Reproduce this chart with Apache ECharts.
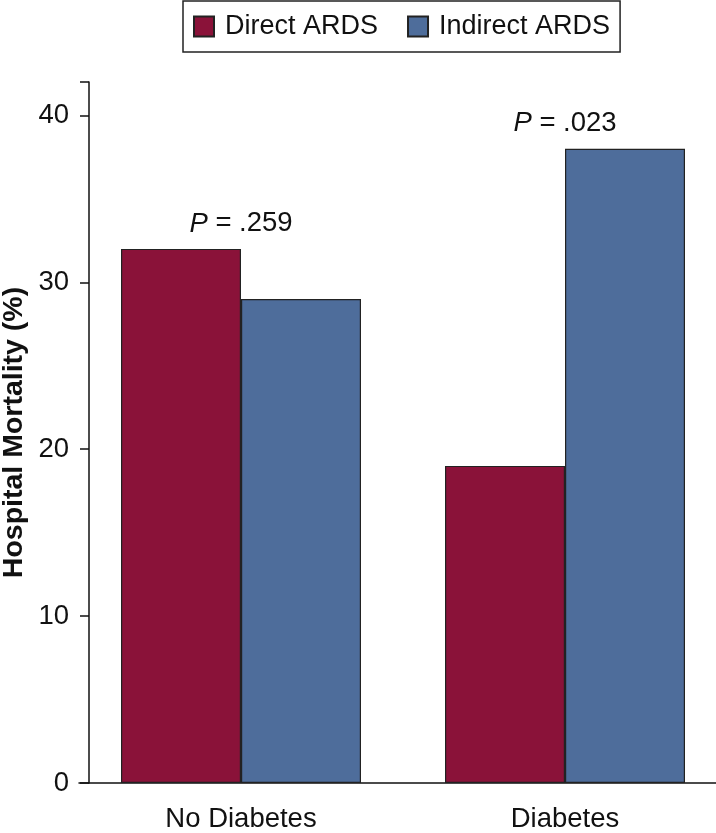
<!DOCTYPE html>
<html>
<head>
<meta charset="utf-8">
<script src="https://cdn.jsdelivr.net/npm/echarts@6/dist/echarts.min.js"></script>
<style>html,body{margin:0;padding:0;background:#fff;}#c{width:716px;height:833px;}</style>
</head>
<body>
<div id="c"></div>
<script>
const categories = ['No Diabetes', 'Diabetes'];
const directARDS = [32, 19];
const indirectARDS = [29, 38];
const pValues = ['.259', '.023'];
const yTicks = [0, 10, 20, 30, 40];

const FONT = '"Liberation Sans", Arial, sans-serif';
const INK = '#111';
const chart = echarts.init(document.getElementById('c'));
const annot = categories.map((c, i) => ({ value: [c, Math.max(directARDS[i], indirectARDS[i])], p: pValues[i] }));

chart.setOption({
  animation: false,
  textStyle: { fontFamily: FONT },
  legend: {
    top: 1, left: 183, icon: 'rect',
    itemWidth: 20, itemHeight: 20, itemGap: 29,
    padding: [12, 10, 12, 10],
    borderColor: '#222', borderWidth: 1.5,
    textStyle: { fontSize: 27, color: INK, fontFamily: FONT, padding: [0, 0, 0, 6] },
    data: ['Direct ARDS', 'Indirect ARDS']
  },
  grid: { left: 79, right: -11, top: 82, bottom: 50, containLabel: false, outerBoundsMode: 'none' },
  xAxis: {
    type: 'category', data: categories,
    axisLine: { lineStyle: { color: INK, width: 1.5 } },
    axisTick: { alignWithLabel: true, length: 9, lineStyle: { color: INK, width: 1.5 } },
    axisLabel: { fontSize: 27.5, color: INK, margin: 22, fontFamily: FONT }
  },
  yAxis: {
    type: 'value', min: 0, max: 42, interval: 10, offset: -10,
    name: 'Hospital Mortality (%)', nameLocation: 'middle', nameGap: 60, nameMoveOverlap: false,
    nameTextStyle: { fontSize: 28.5, fontWeight: 'bold', color: INK, fontFamily: FONT },
    axisLine: { show: true, lineStyle: { color: INK, width: 1.5 } },
    axisTick: { show: true, length: 9, lineStyle: { color: INK, width: 1.5 } },
    axisLabel: { fontSize: 27.5, color: INK, margin: 20, fontFamily: FONT,
      formatter: v => yTicks.includes(v) ? String(v) : '' },
    splitLine: { show: false }
  },
  series: [
    { name: 'Direct ARDS', type: 'bar', data: directARDS, barWidth: 120, barGap: '0%',
      itemStyle: { color: '#8A1239', borderColor: '#222', borderWidth: 1.2 } },
    { name: 'Indirect ARDS', type: 'bar', data: indirectARDS, barWidth: 120, barGap: '0%',
      itemStyle: { color: '#4E6D9B', borderColor: '#222', borderWidth: 1.2 } },
    { name: 'p', type: 'scatter', data: annot, symbolSize: 0, silent: true,
      itemStyle: { opacity: 1 },
      label: { show: true, position: 'top', distance: 11,
        formatter: p => '{i|P} = ' + p.data.p,
        fontSize: 27.5, color: INK, fontFamily: FONT, opacity: 1,
        rich: { i: { fontStyle: 'italic', fontSize: 27.5, color: INK, fontFamily: FONT } } } }
  ]
});
</script>
</body>
</html>
